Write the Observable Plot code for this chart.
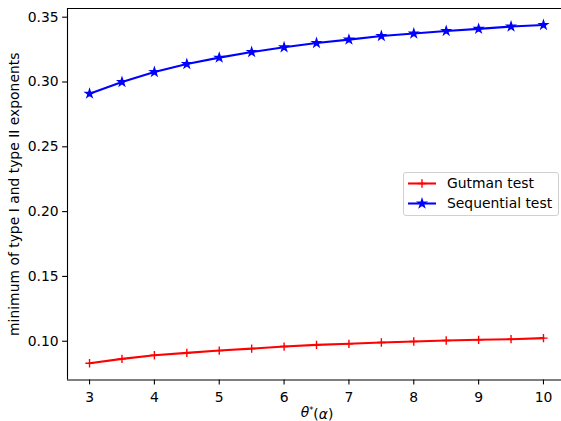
<!DOCTYPE html>
<html><head><meta charset="utf-8">
<script src="https://cdn.jsdelivr.net/npm/d3@7"></script>
<script src="https://cdn.jsdelivr.net/npm/@observablehq/plot@0.6"></script>
<style>
body{margin:0;background:#fff;}
#wrap{position:relative;width:561px;height:421px;font-family:"DejaVu Sans",sans-serif;overflow:hidden;}
#legend{position:absolute;left:403px;top:172px;width:154px;height:42px;border:1px solid #d0d0d0;border-radius:3px;background:rgba(255,255,255,0.8);}
</style></head><body><div id="wrap"></div>
<script>
const theta = [3, 3.5, 4, 4.5, 5, 5.5, 6, 6.5, 7, 7.5, 8, 8.5, 9, 9.5, 10];
const gutman = [0.0830, 0.0864, 0.0892, 0.0910, 0.0928, 0.0943, 0.0959, 0.0972, 0.0980, 0.0990, 0.0998, 0.1006, 0.1011, 0.1016, 0.1024];
const sequential = [0.2910, 0.3000, 0.3077, 0.3139, 0.3188, 0.3231, 0.3268, 0.3301, 0.3327, 0.3355, 0.3374, 0.3394, 0.3410, 0.3428, 0.3440];
const seriesNames = ["Gutman test", "Sequential test"];
const seriesColors = ["red", "blue"];
const xTicks = [3, 4, 5, 6, 7, 8, 9, 10];
const yTicks = [0.10, 0.15, 0.20, 0.25, 0.30, 0.35];
const xDomain = [2.66, 10.278];
const yDomain = [0.0701, 0.3567];
const yLabel = "minimum of type I and type II exponents";

const FS = 13.9;
const PLUS_R = 2.8, STAR_R = 2.5;
const gData = theta.map((t, i) => ({t, v: gutman[i]}));
const sData = theta.map((t, i) => ({t, v: sequential[i]}));

const chart = Plot.plot({
  width: 561, height: 421,
  marginLeft: 67, marginRight: 0, marginTop: 8, marginBottom: 41.5,
  style: {fontFamily: "DejaVu Sans", fontSize: FS + "px", background: "white", color: "black"},
  x: {domain: xDomain},
  y: {domain: yDomain},
  marks: [
    Plot.ruleX([xDomain[0]], {stroke: "black", strokeWidth: 1.1}),
    Plot.ruleY([yDomain[0]], {stroke: "black", strokeWidth: 1.1}),
    Plot.ruleY([yDomain[1]], {stroke: "black", strokeWidth: 1.1}),
    Plot.axisX({ticks: xTicks, tickSize: 4.9, tickPadding: 7, tickFormat: d3.format("d"), fontSize: FS, label: null, strokeWidth: 1.1}),
    Plot.axisY({ticks: yTicks, tickSize: 4.9, tickPadding: 4, tickFormat: d3.format(".2f"), fontSize: FS, label: null, strokeWidth: 1.1}),
    Plot.line(gData, {x: "t", y: "v", stroke: seriesColors[0], strokeWidth: 2.08}),
    Plot.dot(gData, {x: "t", y: "v", symbol: "plus", stroke: seriesColors[0], r: PLUS_R, strokeWidth: 1.39}),
    Plot.line(sData, {x: "t", y: "v", stroke: seriesColors[1], strokeWidth: 2.08}),
    Plot.dot(sData, {x: "t", y: "v", symbol: "star", fill: seriesColors[1], stroke: seriesColors[1], r: STAR_R, strokeWidth: 1.39}),
    Plot.text([yLabel], {frameAnchor: "left", dx: -53, rotate: -90, fontSize: FS, textAnchor: "middle", className: "ylab"}),
    Plot.text(["θ*(α)"], {frameAnchor: "bottom", dx: 2.5, dy: 36.5, fontSize: FS, textAnchor: "middle", className: "xlab"})
  ]
});

const wrap = document.getElementById("wrap");
wrap.appendChild(chart);

// mathtext-like x label
const xl = d3.select(chart).select(".xlab text");
xl.text(null);
xl.append("tspan").attr("font-style", "italic").text("θ");
xl.append("tspan").attr("font-size", FS * 0.6).attr("dy", "-0.4em").text("*");
xl.append("tspan").attr("dy", "0.4em").text("(");
xl.append("tspan").attr("font-style", "italic").text("α");
xl.append("tspan").text(")");

// legend
const leg = document.createElement("div");
leg.id = "legend";
const ls = d3.select(leg).append("svg").attr("width", 154).attr("height", 42).style("position", "absolute").style("left", 0).style("top", 0);
seriesNames.forEach((name, i) => {
  const cy = 10.5 + i * 20;
  const g = ls.append("g");
  g.append("line").attr("x1", 4).attr("x2", 32).attr("y1", cy).attr("y2", cy).attr("stroke", seriesColors[i]).attr("stroke-width", 2.08);
  const sym = i === 0 ? d3.symbolPlus : d3.symbolStar;
  const rr = i === 0 ? PLUS_R : STAR_R;
  const p = g.append("path").attr("d", d3.symbol(sym, Math.PI * rr * rr)()).attr("transform", `translate(18,${cy})`).attr("stroke", seriesColors[i]).attr("stroke-width", 1.39);
  p.attr("fill", i === 0 ? "none" : seriesColors[i]);
  g.append("text").attr("x", 43).attr("y", cy).attr("dy", "0.35em").attr("font-size", FS).attr("font-family", "DejaVu Sans").text(name);
});
wrap.appendChild(leg);
</script>
</body></html>
